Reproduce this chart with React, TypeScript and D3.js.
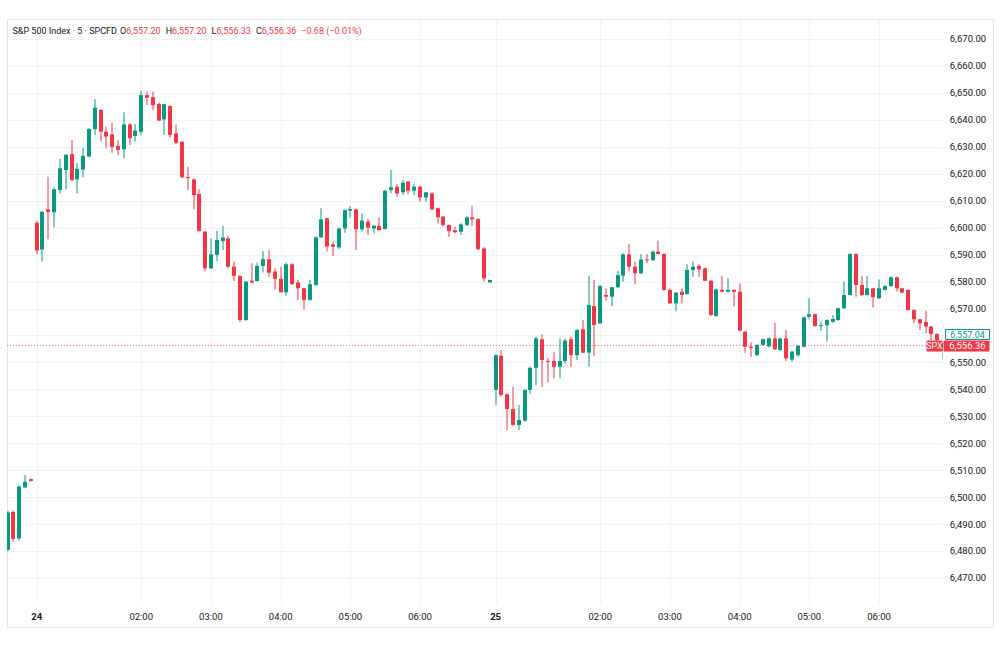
import React from 'react';
import * as d3 from 'd3';

// 5-minute bars, last few of the 23rd, the 24th session, then the 25th
const opens = [
  6480.5, 6494.5, 6484.7, 6503.6, 6506.7,
  6601.8, 6591.9, 6606.8, 6605.7, 6614.0, 6621.4, 6627.3, 6617.9, 6621.6, 6626.4,
  6636.6, 6643.7, 6635.6, 6634.6, 6630.3, 6629.1, 6638.3, 6634.0, 6635.6, 6649.2,
  6648.4, 6645.9, 6640.2, 6645.1, 6635.0, 6631.9, 6618.8, 6617.9, 6612.5, 6598.5,
  6584.9, 6589.9, 6595.0, 6596.0, 6585.5, 6582.1, 6565.7, 6580.3, 6580.2, 6585.8,
  6588.3, 6583.7, 6581.0, 6576.0, 6586.4, 6579.6, 6577.5, 6573.2, 6578.7, 6596.4,
  6603.5, 6593.8, 6592.7, 6599.7, 6606.3, 6606.8, 6599.4, 6602.2, 6599.7, 6600.7,
  6599.5, 6614.0, 6615.2, 6613.1, 6617.1, 6613.7, 6615.2, 6611.2, 6612.7, 6607.2,
  6604.1, 6601.0, 6599.1, 6598.5, 6601.0, 6603.8, 6603.2, 6592.3, 6579.7,
  6539.8, 6552.5, 6538.2, 6532.7, 6526.8, 6528.4, 6539.8, 6548.0, 6558.6, 6550.6,
  6550.5, 6548.4, 6550.5, 6558.6, 6552.7, 6562.3, 6553.6, 6570.9, 6564.5, 6575.0,
  6574.4, 6577.9, 6582.2, 6590.1, 6585.5, 6583.1, 6588.2, 6588.0, 6591.1, 6590.2,
  6576.9, 6571.9, 6576.2, 6575.4, 6584.3, 6585.8, 6584.9, 6580.3, 6567.2, 6576.9,
  6576.2, 6576.9, 6576.2, 6561.4, 6555.8, 6552.7, 6556.5, 6556.0, 6558.9, 6554.6,
  6558.9, 6551.0, 6552.7, 6555.8, 6566.9, 6567.9, 6563.5, 6563.8, 6565.1, 6565.7,
  6570.1, 6575.0, 6590.2, 6578.7, 6575.0, 6577.5, 6573.8, 6576.9, 6578.3, 6581.6,
  6577.5, 6576.9, 6569.4, 6566.0, 6565.0, 6563.3, 6560.5, 6554.5, 6557.2,
];
const highs = [
  6495.0, 6495.0, 6504.5, 6508.2, 6506.9,
  6602.5, 6606.0, 6618.9, 6615.0, 6625.5, 6627.3, 6632.5, 6623.9, 6629.7, 6636.9,
  6647.7, 6643.9, 6637.5, 6639.0, 6632.5, 6642.8, 6638.7, 6638.5, 6650.8, 6650.5,
  6650.5, 6646.4, 6645.9, 6645.4, 6638.3, 6632.0, 6622.6, 6618.2, 6614.2, 6598.8,
  6596.0, 6598.8, 6600.7, 6596.9, 6587.4, 6582.3, 6580.2, 6586.8, 6587.0, 6591.3,
  6591.7, 6584.9, 6585.5, 6587.0, 6586.8, 6580.6, 6577.7, 6580.6, 6596.7, 6607.2,
  6603.7, 6594.8, 6600.0, 6606.8, 6608.0, 6607.0, 6605.3, 6603.1, 6601.0, 6603.8,
  6614.0, 6621.4, 6616.2, 6617.7, 6617.3, 6616.1, 6615.5, 6613.2, 6613.0, 6607.4,
  6604.3, 6601.2, 6600.4, 6601.6, 6604.3, 6608.2, 6603.5, 6592.7, 6580.7,
  6553.0, 6554.6, 6538.5, 6541.0, 6534.2, 6540.0, 6548.4, 6559.5, 6560.5, 6551.5,
  6554.0, 6558.9, 6558.9, 6559.5, 6562.3, 6565.7, 6582.2, 6580.6, 6578.7, 6577.5,
  6578.1, 6584.0, 6590.5, 6593.9, 6587.4, 6590.2, 6590.2, 6591.5, 6595.2, 6590.5,
  6577.4, 6576.1, 6577.5, 6586.4, 6587.4, 6586.4, 6585.2, 6580.6, 6577.4, 6582.1,
  6581.2, 6577.1, 6579.3, 6561.6, 6557.4, 6556.7, 6558.8, 6559.2, 6564.7, 6559.2,
  6562.0, 6554.3, 6556.5, 6567.0, 6573.8, 6568.2, 6565.1, 6566.0, 6567.6, 6570.3,
  6580.0, 6590.5, 6590.5, 6582.1, 6582.1, 6577.7, 6580.8, 6578.7, 6581.8, 6581.8,
  6577.7, 6577.1, 6569.7, 6566.2, 6569.2, 6563.5, 6560.8, 6557.5, 6557.2,
];
const lows = [
  6480.0, 6483.5, 6484.0, 6503.5, 6505.9,
  6590.2, 6587.4, 6595.7, 6600.1, 6612.7, 6614.2, 6617.1, 6612.7, 6618.7, 6626.1,
  6634.4, 6631.9, 6629.4, 6627.8, 6627.0, 6625.7, 6630.7, 6631.9, 6634.4, 6645.5,
  6643.7, 6639.6, 6634.4, 6633.5, 6631.0, 6618.4, 6614.0, 6606.8, 6598.5, 6583.9,
  6584.7, 6587.6, 6591.7, 6584.9, 6580.2, 6564.9, 6565.5, 6579.3, 6580.0, 6583.4,
  6581.8, 6577.1, 6575.9, 6574.8, 6578.7, 6573.2, 6569.5, 6572.9, 6578.5, 6596.3,
  6591.1, 6589.5, 6592.0, 6598.1, 6603.8, 6591.7, 6598.5, 6597.3, 6597.9, 6598.9,
  6599.4, 6612.7, 6611.5, 6612.1, 6612.4, 6612.1, 6609.6, 6609.6, 6606.5, 6601.6,
  6600.4, 6596.6, 6597.9, 6597.3, 6600.6, 6600.7, 6591.7, 6580.0, 6579.6,
  6534.2, 6537.3, 6524.9, 6526.5, 6524.9, 6528.0, 6538.3, 6541.6, 6541.0, 6542.6,
  6544.1, 6544.1, 6549.6, 6548.2, 6550.9, 6553.4, 6548.4, 6552.4, 6564.2, 6572.9,
  6570.9, 6577.5, 6579.9, 6583.7, 6579.0, 6582.8, 6586.8, 6587.6, 6590.1, 6576.6,
  6571.7, 6569.1, 6571.9, 6575.0, 6581.8, 6581.8, 6580.2, 6567.2, 6567.0, 6576.0,
  6576.0, 6570.7, 6561.5, 6553.6, 6552.1, 6552.4, 6556.2, 6555.5, 6554.6, 6554.4,
  6550.5, 6550.2, 6552.1, 6555.6, 6566.0, 6563.3, 6561.8, 6557.7, 6564.7, 6565.5,
  6569.8, 6574.8, 6574.4, 6574.6, 6574.8, 6570.4, 6573.5, 6576.6, 6578.1, 6576.3,
  6575.6, 6569.2, 6564.5, 6562.0, 6560.8, 6558.3, 6557.3, 6551.1, 6556.33,
];
const closes = [
  6494.3, 6484.5, 6503.9, 6505.7, 6506.0,
  6591.5, 6605.9, 6605.8, 6614.2, 6622.0, 6627.0, 6617.7, 6621.8, 6626.6, 6636.6,
  6644.5, 6635.6, 6633.8, 6630.0, 6628.8, 6638.3, 6633.2, 6636.0, 6649.2, 6648.2,
  6645.5, 6639.7, 6645.8, 6634.4, 6631.5, 6618.7, 6618.4, 6612.1, 6598.8, 6584.9,
  6590.1, 6595.4, 6596.3, 6585.5, 6582.1, 6565.7, 6580.0, 6579.7, 6585.8, 6588.3,
  6583.3, 6581.0, 6576.0, 6586.4, 6579.1, 6577.5, 6573.2, 6579.0, 6596.4, 6603.1,
  6593.0, 6592.9, 6599.7, 6606.5, 6606.9, 6599.4, 6602.6, 6600.0, 6600.7, 6599.1,
  6613.7, 6615.0, 6612.7, 6616.7, 6613.7, 6615.2, 6611.2, 6613.1, 6606.8, 6603.8,
  6601.0, 6598.7, 6598.3, 6601.2, 6603.8, 6603.1, 6592.0, 6581.2, 6580.6,
  6552.7, 6537.9, 6532.7, 6526.8, 6528.6, 6539.8, 6548.0, 6558.9, 6550.9, 6550.4,
  6548.4, 6550.5, 6558.1, 6552.7, 6562.0, 6553.6, 6571.3, 6563.9, 6578.3, 6574.4,
  6577.9, 6582.4, 6590.1, 6585.5, 6583.1, 6588.2, 6588.1, 6591.1, 6590.2, 6576.9,
  6571.9, 6575.9, 6575.0, 6584.3, 6585.5, 6584.5, 6580.3, 6567.6, 6577.1, 6576.2,
  6576.9, 6576.2, 6561.8, 6555.8, 6555.3, 6556.5, 6558.6, 6558.9, 6554.9, 6558.9,
  6551.5, 6554.0, 6556.1, 6566.7, 6567.9, 6563.5, 6563.8, 6565.7, 6566.1, 6570.1,
  6575.0, 6590.2, 6578.7, 6575.0, 6577.5, 6574.2, 6577.5, 6578.3, 6581.6, 6577.5,
  6575.9, 6569.4, 6566.0, 6564.5, 6563.3, 6560.5, 6558.3, 6557.04, 6556.36,
];

// bar index of each time-axis label
const timeTickBars = [5, 23, 35, 47, 59, 71, 84, 102, 114, 126, 138, 150];
const timeTickLabels = ['24', '02:00', '03:00', '04:00', '05:00', '06:00', '25', '02:00', '03:00', '04:00', '05:00', '06:00'];
const dayLabels = ['24', '25'];

const symbolTitle = 'S&P 500 Index · 5 · SPCFD';
const symbolShort = 'SPX';

const UP = '#089981';
const DOWN = '#f23645';
const GRID = '#f0f3fa';
const TEXT = '#131722';
const FONT = 'Roboto, "Noto Sans", sans-serif';

export default function App() {
  const W = 1000;
  const H = 670;
  const plot = { left: 7, right: 943, top: 19, bottom: 604 };

  const bars = opens.map((o, i) => ({ i, o, h: highs[i], l: lows[i], c: closes[i] }));
  const last = bars[bars.length - 1];
  const prev = bars[bars.length - 2];
  const change = last.c - prev.c;
  const changePct = (change / prev.c) * 100;

  const x = d3.scaleLinear().domain([0, 161]).range([7.6, 943]);
  const y = d3.scaleLinear().domain([6470, 6670]).range([578, 39]);
  const priceTicks = y.ticks(20);

  const fmt = d3.format(',.2f');
  const bodyW = 4;

  const lastY = Math.round(y(last.c)) + 0.5;

  return (
    <svg width={W} height={H} style={{ position: 'absolute', left: 0, top: 0, background: '#fff' }} fontFamily={FONT}>
      <defs>
        <clipPath id="plot-clip">
          <rect x={plot.left} y={plot.top} width={plot.right - plot.left} height={plot.bottom - plot.top} />
        </clipPath>
      </defs>
      <rect width={W} height={H} fill="#fff" />

      {/* grid */}
      <g stroke={GRID} strokeWidth={1}>
        {priceTicks.map((p) => (
          <line key={p} x1={plot.left} x2={plot.right} y1={Math.round(y(p)) + 0.5} y2={Math.round(y(p)) + 0.5} />
        ))}
        {timeTickBars.map((b) => (
          <line key={b} x1={Math.round(x(b)) + 0.5} x2={Math.round(x(b)) + 0.5} y1={plot.top} y2={plot.bottom} />
        ))}
      </g>

      {/* chart frame */}
      <rect x={7.5} y={19.5} width={986} height={608} fill="none" stroke="#e0e3eb" strokeWidth={1} />

      {/* candles */}
      <g clipPath="url(#plot-clip)">
        {bars.map((d) => {
          const cx = x(d.i);
          const color = d.c >= d.o ? UP : DOWN;
          const bx = Math.round(cx - bodyW / 2);
          const top = y(Math.max(d.o, d.c));
          const bh = Math.max(1, y(Math.min(d.o, d.c)) - top);
          return (
            <g key={d.i} fill={color}>
              <rect x={bx + 1.5} y={y(d.h)} width={1} height={Math.max(1, y(d.l) - y(d.h))} />
              <rect x={bx} y={top} width={bodyW} height={bh} />
            </g>
          );
        })}
      </g>

      {/* last price line */}
      <line x1={plot.left} x2={plot.right} y1={lastY} y2={lastY}
        stroke={DOWN} strokeOpacity={0.7} strokeDasharray="1 2" />

      {/* price axis */}
      <g fontSize={9.5} fill={TEXT} textAnchor="middle">
        {priceTicks.map((p) => (
          <text key={p} x={968} y={y(p) + 3.4}>{fmt(p)}</text>
        ))}
      </g>

      {/* previous close label, stacked above the last price */}
      <rect x={945.5} y={lastY - 16} width={44} height={10} fill="#fff" stroke={UP} strokeWidth={1} />
      <text x={967.5} y={lastY - 7.8} fontSize={9} fill={UP} textAnchor="middle">{fmt(prev.c)}</text>

      {/* last price labels */}
      <rect x={926.5} y={lastY - 5} width={16} height={11} fill={DOWN} rx={1} />
      <text x={934.5} y={lastY + 3.6} fontSize={9} fill="#fff" textAnchor="middle">{symbolShort}</text>
      <rect x={943.5} y={lastY - 5} width={46} height={11} fill={DOWN} rx={1} />
      <text x={967.5} y={lastY + 3.6} fontSize={9.5} fill="#fff" textAnchor="middle">{fmt(last.c)}</text>

      {/* time axis */}
      <g fontSize={9.5} fill={TEXT} textAnchor="middle">
        {timeTickBars.map((b, k) => (
          <text key={b} x={x(b)} y={620} fontWeight={dayLabels.includes(timeTickLabels[k]) ? 700 : 400}>
            {timeTickLabels[k]}
          </text>
        ))}
      </g>

      {/* legend */}
      <text x={12.5} y={33.5} fontSize={9} fill={TEXT}>
        <tspan>{symbolTitle}</tspan>
        <tspan dx={3}>O</tspan>
        <tspan fill={DOWN}>{fmt(last.o)}</tspan>
        <tspan dx={5}>H</tspan>
        <tspan fill={DOWN}>{fmt(last.h)}</tspan>
        <tspan dx={5}>L</tspan>
        <tspan fill={DOWN}>{fmt(last.l)}</tspan>
        <tspan dx={5}>C</tspan>
        <tspan fill={DOWN}>{fmt(last.c)}</tspan>
        <tspan dx={5} fill={DOWN}>{`${fmt(change)} (${fmt(changePct)}%)`}</tspan>
      </text>
    </svg>
  );
}
